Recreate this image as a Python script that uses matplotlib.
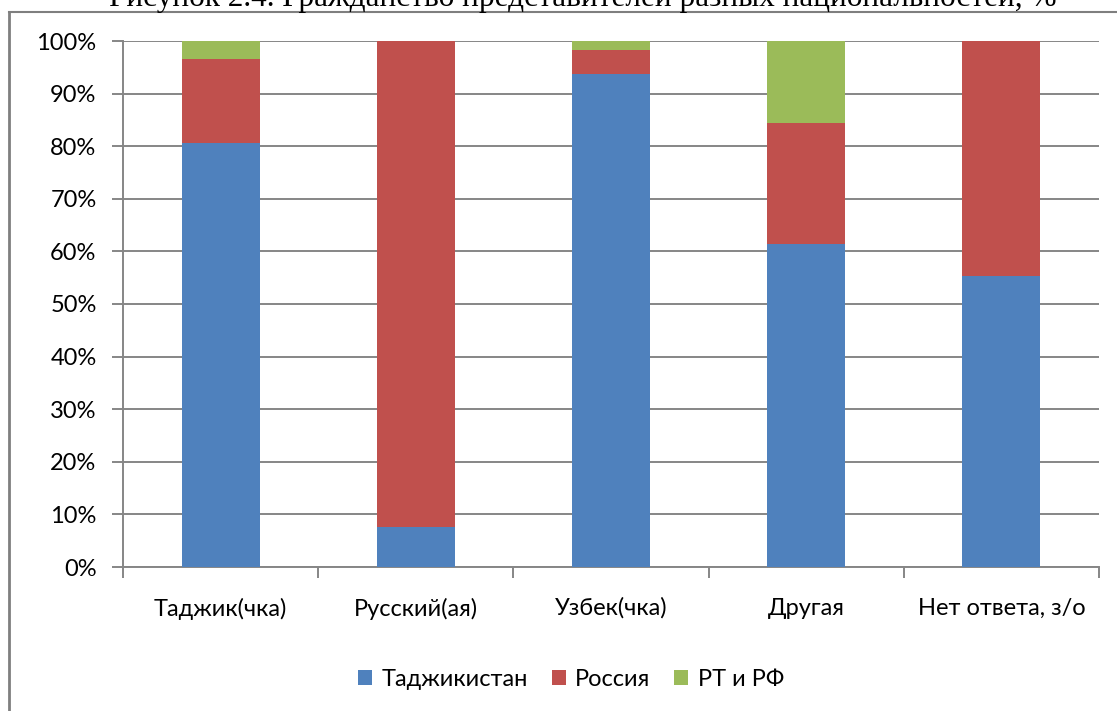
import matplotlib.pyplot as plt
from matplotlib.lines import Line2D
from matplotlib.ticker import FixedLocator, PercentFormatter
import numpy as np

categories = ["Таджик(чка)", "Русский(ая)", "Узбек(чка)", "Другая", "Нет ответа, з/о"]
tajikistan = [80.6, 7.6, 93.7, 61.4, 55.3]
russia = [15.9, 92.4, 4.6, 23.0, 44.7]
both = [3.5, 0.0, 1.7, 15.6, 0.0]
series_names = ["Таджикистан", "Россия", "РТ и РФ"]
colors = ["#4F81BD", "#C0504D", "#9BBB59"]

plt.rcParams["font.family"] = ["Lato", "DejaVu Sans"]

fig = plt.figure(figsize=(11.17, 7.11), dpi=100)
ax = fig.add_axes([123 / 1117, 1 - 567 / 711, (1099 - 123) / 1117, (567 - 41) / 711])

x = np.arange(len(categories))
bottom = np.zeros(len(categories))
for values, name, color in zip([tajikistan, russia, both], series_names, colors):
    ax.bar(x, values, 0.4, bottom=bottom, color=color, label=name, zorder=3)
    bottom += np.array(values)

ax.set_xlim(-0.5, len(categories) - 0.5)
ax.set_ylim(0, 100)
ax.set_yticks(np.arange(0, 101, 10))
ax.yaxis.set_major_formatter(PercentFormatter(decimals=0))
ax.grid(axis="y", color="#868686", linewidth=1.4, zorder=0)

ax.set_xticks(x)
ax.set_xticklabels(categories)
ax.xaxis.set_minor_locator(FixedLocator(np.arange(-0.5, len(categories), 1.0)))
ax.tick_params(axis="x", which="major", length=0, pad=22, labelsize=17)
ax.tick_params(axis="x", which="minor", length=8, color="#868686", width=1.4)
ax.tick_params(axis="y", length=8, color="#868686", width=1.4, labelsize=17, pad=11)

for side in ["top", "right"]:
    ax.spines[side].set_visible(False)
for side in ["left", "bottom"]:
    ax.spines[side].set_color("#868686")
    ax.spines[side].set_linewidth(1.4)

fig.legend(loc="center", bbox_to_anchor=(571 / 1117, 1 - 679 / 711), ncol=3,
           frameon=False, fontsize=17, handlelength=0.6, handleheight=0.6,
           handletextpad=0.4, columnspacing=1.0)

# chart frame
fig.add_artist(Line2D([9 / 1117, 9 / 1117], [0, 1 - 12 / 711], color="#7f7f7f", linewidth=2))
fig.add_artist(Line2D([9 / 1117, 1], [1 - 12 / 711, 1 - 12 / 711], color="#7f7f7f", linewidth=1.5))

# title: the reference shows it cropped at the top edge
fig.text(583 / 1117, 1 - 6 / 711,
         "Рисунок 2.4. Гражданство представителей разных национальностей, %",
         ha="center", va="baseline", fontsize=22.5, family=["Liberation Serif"])

fig.savefig("out.png", dpi=100)
